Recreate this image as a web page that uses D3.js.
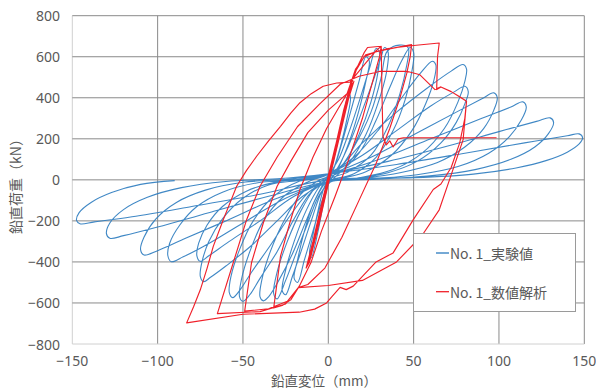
<!DOCTYPE html>
<html><head><meta charset="utf-8">
<script src="https://cdn.jsdelivr.net/npm/d3@7"></script>
<style>
body{margin:0;background:#fff}
svg{display:block}
text{font-family:"Noto Sans CJK JP","Noto Sans",sans-serif;fill:#595959}
</style>
</head><body>
<svg id="c" width="596" height="389"></svg>
<script>
const xTicks=[-150,-100,-50,0,50,100,150];
const yTicks=[-800,-600,-400,-200,0,200,400,600,800];
const seriesNames=["No. 1_実験値","No. 1_数値解析"];
const xTitle="鉛直変位（mm）";
const yTitle="鉛直荷重（kN）";

// experimental (blue) cycles: [displacement mm, load kN]
const blueC1=[[0,0],[4,130],[8,280],[12,420],[13,400],[11,300],[7,160],[3,50],[0,-20],[-3,-120],[-6,-250],[-10,-380],[-11,-360],[-9,-270],[-6,-150],[-3,-50],[0,10]];
const blueC2=[[3,50],[8,180],[13,330],[18,480],[22,600],[24,580],[22,480],[18,340],[12,180],[6,60],[0,-20],[-4,-110],[-9,-250],[-14,-390],[-18,-500],[-20,-480],[-18,-390],[-14,-250],[-9,-120],[-3,-20]];
const blueC3=[[0,20],[6,100],[12,230],[18,380],[24,540],[28,640],[30,620],[29,520],[25,380],[18,220],[10,90],[2,10],[-4,-60],[-10,-200],[-16,-350],[-21,-470],[-25,-560],[-27,-540],[-25,-440],[-20,-300],[-13,-150],[-5,-30],[0,15]];
const blueC4=[[4,40],[12,170],[20,340],[27,500],[31,600],[33,645],[35,625],[34,520],[29,370],[22,220],[12,80],[3,5],[-5,-70],[-12,-210],[-19,-360],[-25,-490],[-30,-580],[-32,-555],[-30,-450],[-24,-300],[-16,-150],[-7,-30],[0,20]];
const blueC5=[[5,40],[15,160],[25,330],[31,500],[34,620],[38,650],[45,655],[47,640],[46,560],[42,420],[35,260],[25,120],[12,40],[0,0],[-6,-70],[-13,-200],[-21,-360],[-29,-490],[-35,-570],[-38,-590],[-40,-570],[-39,-490],[-34,-350],[-26,-200],[-16,-70],[-5,0]];
const blueC6=[[5,30],[18,130],[28,290],[36,450],[43,580],[48,645],[50,620],[49,530],[45,390],[38,240],[28,110],[15,30],[0,-5],[-10,-60],[-20,-190],[-30,-350],[-40,-480],[-46,-560],[-50,-592],[-52,-570],[-51,-490],[-46,-350],[-38,-200],[-26,-80],[-12,-10]];
const blueC7=[[0,30],[15,110],[30,250],[43,400],[54,520],[61,578],[63,560],[62,490],[57,370],[49,240],[37,120],[22,40],[5,0],[-10,-50],[-22,-170],[-34,-320],[-45,-450],[-52,-540],[-56,-574],[-58,-550],[-57,-470],[-52,-340],[-44,-200],[-32,-80],[-18,-10]];
const blueC8=[[-5,10],[5,50],[20,180],[40,330],[60,460],[72,530],[79,562],[81,540],[80,480],[76,380],[68,250],[55,130],[38,50],[18,10],[0,-10],[-15,-80],[-30,-200],[-45,-320],[-60,-420],[-69,-475],[-73,-496],[-75,-470],[-74,-400],[-70,-300],[-62,-190],[-50,-90],[-35,-25],[-15,0]];
const blueC9=[[0,30],[20,120],[40,240],[60,360],[74,430],[80,456],[82,430],[80,370],[75,280],[66,180],[52,90],[35,35],[15,5],[0,-10],[-20,-80],[-40,-200],[-58,-300],[-70,-370],[-75,-397],[-77,-370],[-76,-310],[-71,-220],[-62,-130],[-48,-55],[-30,-10],[-10,5]];
const blueC10=[[0,25],[25,110],[50,220],[75,330],[90,395],[97,424],[99,400],[97,340],[91,250],[80,160],[64,85],[42,35],[20,8],[0,-8],[-25,-90],[-50,-210],[-70,-310],[-85,-375],[-92,-399],[-94,-370],[-93,-310],[-87,-220],[-77,-130],[-62,-60],[-42,-15],[-20,0]];
const blueC11=[[0,25],[30,100],[60,200],[90,300],[107,355],[114,380],[116,355],[113,290],[106,210],[94,130],[76,65],[52,25],[25,5],[0,-10],[-30,-90],[-60,-200],[-85,-290],[-100,-345],[-108,-366],[-110,-340],[-108,-280],[-101,-190],[-89,-110],[-72,-50],[-50,-12],[-25,2]];
const blueC12=[[0,28],[35,90],[70,165],[100,235],[122,285],[130,302],[132,280],[129,225],[121,160],[107,100],[86,50],[58,18],[28,3],[0,-8],[-35,-80],[-70,-160],[-100,-230],[-120,-272],[-128,-285],[-130,-262],[-128,-210],[-120,-145],[-106,-85],[-86,-38],[-60,-8],[-30,5]];
const blueC13=[[0,30],[40,75],[80,130],[115,180],[140,215],[147,224],[149,205],[147,175],[140,135],[128,95],[110,58],[85,28],[50,10],[0,0],[-40,-70],[-80,-130],[-115,-180],[-137,-205],[-145.5,-214],[-147.5,-198],[-146,-160],[-139,-110],[-127,-62],[-110,-22],[-90,-4]];

// analysis (red)
const redMain=[[0,0],[5,180],[9,330],[11,400],[8,300],[3,100],[-2,-80],[-6,-230],[-9,-320],[-7,-250],[-2,-60],[4,150],[10,370],[12,430],[9,330],[2,60],[-4,-150],[-9,-320],[-12,-400],
[-8,-280],[-3,-100],[3,110],[8,290],[13,450],[10,360],[4,140],[-2,-70],[-7,-250],[-11,-380],[-8,-270],[-2,-50],[4,160],[9,320],[14,470],[11,390],[5,170],[-1,-40],[-6,-210],[-10,-360],
[-7,-250],[-1,-40],[5,170],[10,350],[15,480],[12,400],[6,190],[0,-20],[-5,-200],[-11,-400],[-13,-430],[-9,-300],[-4,-120],[2,80],[7,260],[12,430],[9,340],[3,120],[-3,-100],[-8,-290],[-12,-410],
[-7,-240],[-2,-70],[3,100],[8,290],[12,430],[17,550],[21,620],[23,645],[31,651],
[30,600],[26,480],[20,300],[12,100],[4,-80],[-4,-250],[-10,-400],[-17,-518],[-22,-585],[-27,-612],[-32,-624],
[-30,-500],[-28,-372],[-22.5,-208],[-16.6,-47],[-9,110],[-1,250],[6,350],[11,420],[16,530],[21,600],[28,625],[38,642],[48.8,659],
[48,600],[46,520],[42,400],[36,250],[28,80],[18,-100],[8,-280],[-2,-430],[-12,-510],[-17.6,-525],[-24,-592],[-35,-628],[-49,-640],
[-45,-404],[-38,-208],[-30,-31],[-22,90],[-12,230],[0,340],[11,420],[16,540],[22,610],[35,640],[50,655],[65,667],
[64,600],[63.5,440],[66,453],[72,430],[77,405],[81,383],
[79,196],[71,0],[65,-146],[55,-270],[40,-400],[20,-490],[0,-515],[-17.6,-525],[-25,-605],[-40,-642],[-65,-652],
[-55.7,-404],[-47.8,-193],[-40,-31],[-30,110],[-18,260],[-5,370],[7,466],[18,505],[26.4,521],[30.3,529],[46,529],[53.7,512],[62.5,440],[66,453],[72,430],[81,383],
[80,300],[77,180],[72,60],[66,-20],[61.5,-47],[49.8,-194],[38,-356],[28,-400],[20,-470],[14.6,-518],[10.5,-535],[6.9,-524],[2,-570],[-1,-600],[-8,-630],[-17,-645],[-50,-655],[-83,-697],
[-79,-620],[-75,-536],[-71,-430],[-67.4,-324],[-61.5,-193],[-57,-100],[-53.7,-31],[-48,45],[-42,115],[-35,190],[-28,261],[-22,325],[-16.6,376],[-10,420],[-3,456],[5,472],[12.7,476],[22,570],[28,630],[31,651],
[31.5,400],[32,212],[34,170],[36,190],[38,160],[41,200],[44,205],[98.6,205]];

const blueAll=[].concat(blueC1,blueC2,blueC3,blueC4,blueC5,blueC6,blueC7,blueC8,blueC9,blueC10,blueC11,blueC12,blueC13);

const svg=d3.select("#c");
const x=d3.scaleLinear().domain([-150,150]).range([72.3,584.3]);
const y=d3.scaleLinear().domain([-800,800]).range([344,15.7]);

const grid=svg.append("g");
xTicks.forEach((t,i)=>{
  grid.append("line").attr("x1",x(t)).attr("x2",x(t)).attr("y1",y(800)).attr("y2",y(-800))
    .attr("stroke",i===0?"#d0d0d0":"#8a8a8a").attr("stroke-width",1);
});
yTicks.forEach((t,i)=>{
  grid.append("line").attr("x1",x(-150)).attr("x2",x(150)).attr("y1",y(t)).attr("y2",y(t))
    .attr("stroke",i===0?"#d0d0d0":"#8a8a8a").attr("stroke-width",1);
});

const fmt=v=>v<0?"−"+Math.abs(v):String(v);
svg.append("g").selectAll("text").data(yTicks).join("text")
  .attr("x",60).attr("y",d=>y(d)).attr("text-anchor","end").attr("dominant-baseline","central")
  .style("font-family","'Noto Sans',sans-serif").attr("font-size",14).text(fmt);
svg.append("g").selectAll("text").data(xTicks).join("text")
  .attr("x",d=>x(d)).attr("y",360).attr("text-anchor","middle").attr("dominant-baseline","central")
  .style("font-family","'Noto Sans',sans-serif").attr("font-size",14).text(fmt);

svg.append("text").attr("transform","translate(15,183) rotate(-90)").attr("text-anchor","middle")
  .attr("dominant-baseline","central").attr("font-size",14).text(yTitle);
svg.append("text").attr("x",324).attr("y",380).attr("text-anchor","middle")
  .attr("dominant-baseline","central").attr("font-size",13.5).text(xTitle);

const blueLine=d3.line().x(d=>x(d[0])).y(d=>y(d[1])).curve(d3.curveCatmullRom.alpha(0.5));
const redLine=d3.line().x(d=>x(d[0])).y(d=>y(d[1])).curve(d3.curveLinear);
const colors=["#2b7bbf","#f0202a"];
svg.append("path").attr("d",blueLine(blueAll)).attr("fill","none").attr("stroke",colors[0]).attr("stroke-width",1.1).attr("stroke-opacity",0.9);
svg.append("path").attr("d",redLine(redMain)).attr("fill","none").attr("stroke",colors[1]).attr("stroke-width",1.15).attr("stroke-linejoin","round");

const lg=svg.append("g");
lg.append("rect").attr("x",413.5).attr("y",233.5).attr("width",162).attr("height",78)
  .attr("fill","#fff").attr("stroke","#9a9a9a");
seriesNames.forEach((n,i)=>{
  const yy=253+i*38.7;
  lg.append("line").attr("x1",436).attr("x2",449).attr("y1",yy).attr("y2",yy).attr("stroke",colors[i]).attr("stroke-width",1.3);
  lg.append("text").attr("x",450).attr("y",yy).attr("dominant-baseline","central").attr("font-size",14).text(n);
});
</script>
</body></html>
